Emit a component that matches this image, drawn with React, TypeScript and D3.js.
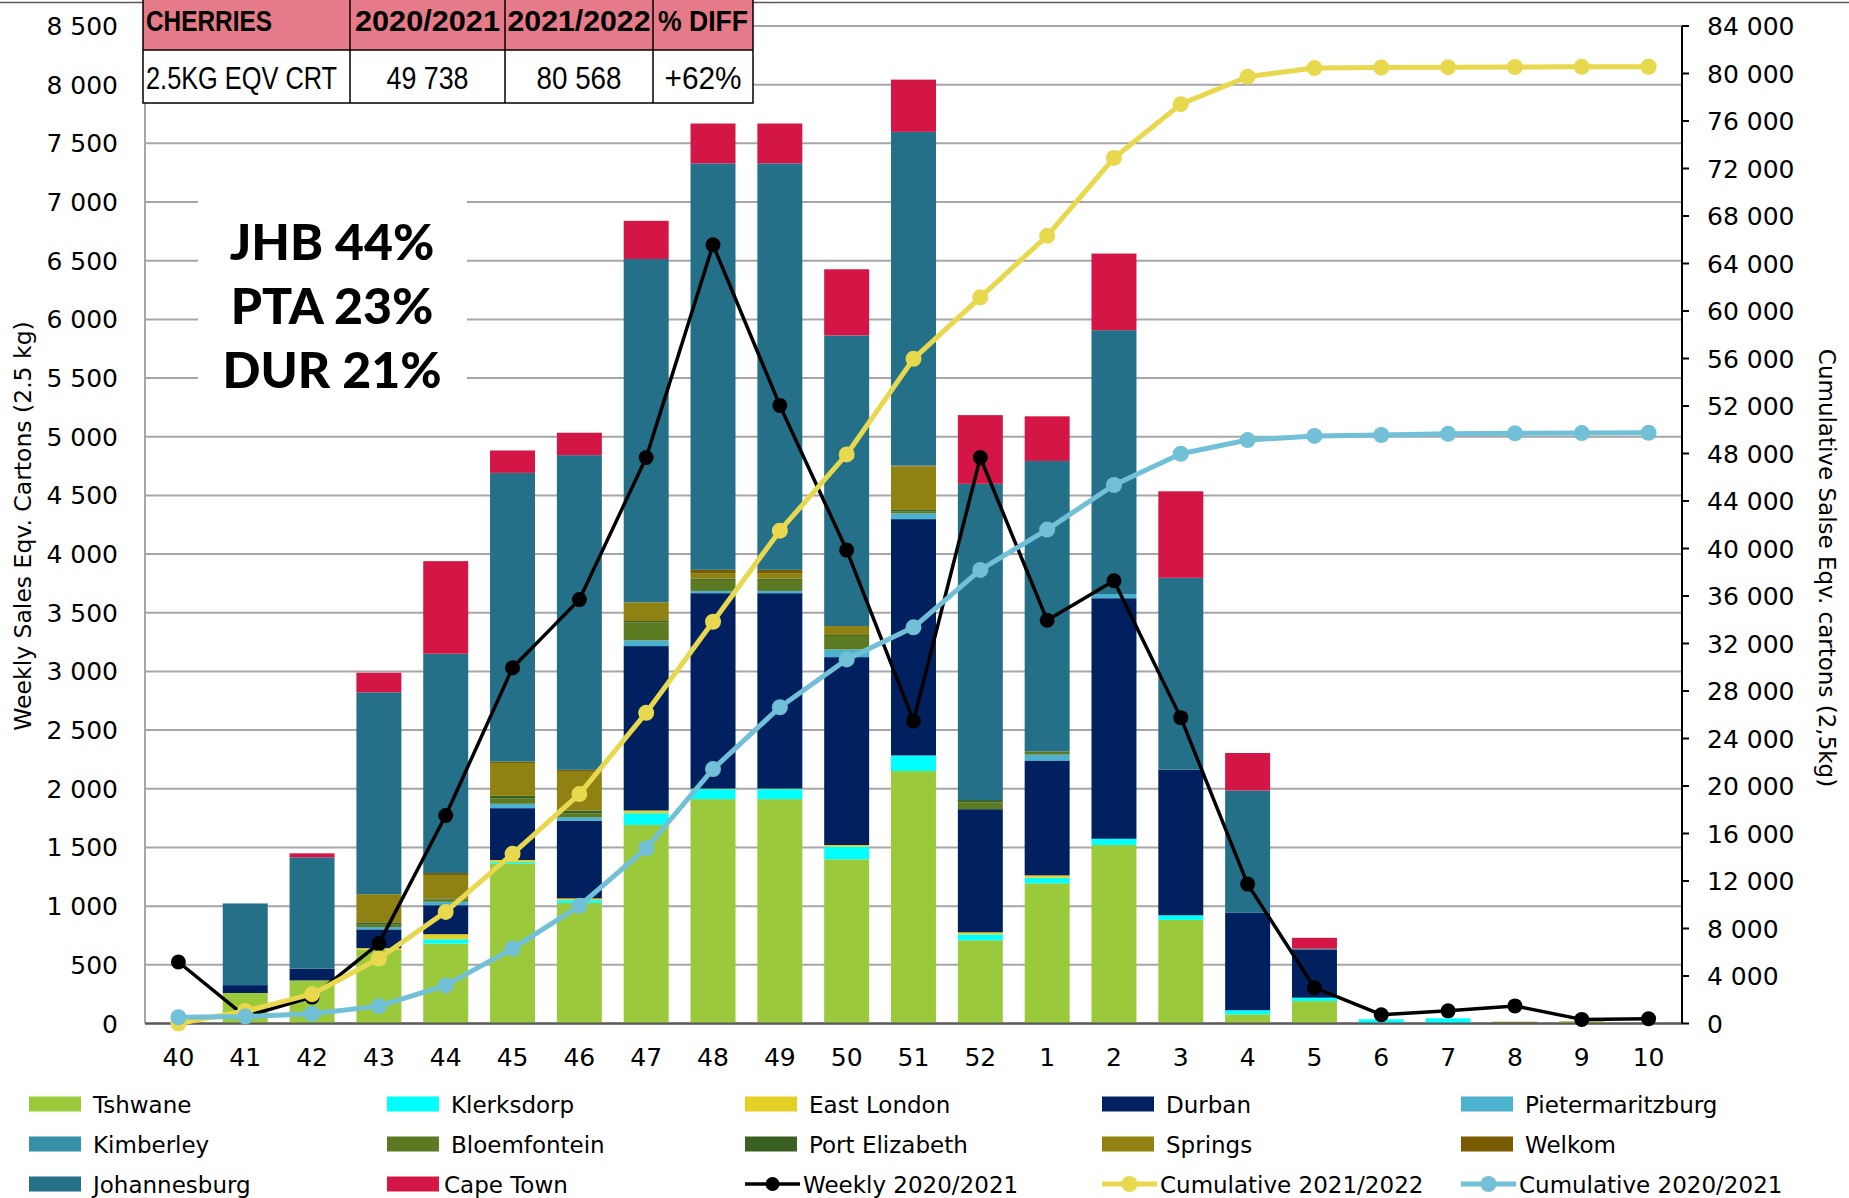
import React from "react";
import * as d3 from "d3";

const weeks = ["40","41","42","43","44","45","46","47","48","49","50","51","52","1","2","3","4","5","6","7","8","9","10"];

const seriesNames = ["Tshwane","Klerksdorp","East London","Durban","Pietermaritzburg","Kimberley","Bloemfontein","Port Elizabeth","Springs","Welkom","Johannesburg","Cape Town"];
const seriesColors = ["#9ACA3C","#00FFFF","#E6CF25","#00205F","#4BB1CF","#368EA8","#5C7A21","#3A6121","#8F8213","#7A5C00","#247088","#D41647"];

const tshwane =      [0,260,367,630,681,1365,1028,1692,1912,1912,1399,2152,709,1195,1521,883,78,191,0,0,0,20,0];
const klerksdorp =   [0,0,0,0,37,13,23,100,85,85,108,132,50,46,53,39,35,29,36,44,0,0,0];
const eastLondon =   [0,0,0,12,43,15,15,23,5,5,14,0,18,21,0,0,0,0,0,0,0,0,0];
const durban =       [0,67,100,160,247,442,663,1401,1665,1665,1601,2014,1049,979,2050,1241,830,408,0,0,0,0,0];
const pietermaritzburg = [0,0,0,20,29,37,29,49,19,19,66,49,0,50,36,0,0,0,0,0,0,0,0];
const kimberley =    [0,0,0,0,0,0,0,0,0,0,0,0,0,0,0,0,0,0,0,0,0,0,0];
const bloemfontein = [0,0,0,25,18,48,34,151,94,94,114,15,58,28,0,0,0,0,0,0,0,0,0];
const portElizabeth =[0,0,0,15,11,20,23,14,10,10,8,14,20,0,0,0,0,0,0,0,0,0,0];
const springs =      [0,0,0,235,199,280,330,157,48,48,77,371,0,0,0,0,0,0,0,0,15,0,0];
const welkom =       [0,0,0,5,17,12,17,3,28,28,0,7,0,0,0,0,0,0,0,0,0,0,0];
const johannesburg = [0,696,949,1720,1869,2460,2681,2925,3464,3464,2476,2844,2695,2475,2248,1635,1043,10,0,0,0,0,0];
const capeTown =     [0,0,34,167,789,191,191,325,339,339,564,445,585,380,653,737,319,92,0,0,0,0,0];

const weekly2021 =     [524,60,225,681,1772,3031,3612,4823,6635,5267,4034,2578,4823,3436,3773,2606,1188,305,75,108,150,35,40];
const cumulative2122 = [0,1050,2470,5470,9400,14290,19320,26160,33830,41500,47920,55970,61150,66330,72890,77420,79730,80460,80500,80530,80550,80560,80568];
const cumulative2021 = [524,590,820,1462,3210,6309,9909,14757,21427,26633,30660,33360,38195,41594,45345,47977,49131,49480,49560,49660,49700,49720,49738];

const leftTicks = d3.range(0, 8501, 500);
const rightTicks = d3.range(0, 84001, 4000);

const tableHeader = ["CHERRIES", "2020/2021", "2021/2022", "% DIFF"];
const tableRow = ["2.5KG EQV CRT", "49 738", "80 568", "+62%"];
const shareLabels = ["JHB 44%", "PTA 23%", "DUR 21%"];

const lineNames = ["Weekly 2020/2021", "Cumulative 2021/2022", "Cumulative 2020/2021"];
const lineColors = ["#000000", "#E8D84E", "#72C0D8"];

const W = 1849;
const H = 1198;
const FONT = "'DejaVu Sans', Verdana, sans-serif";

const fmt = (v: number) => d3.format(",")(v).replace(/,/g, " ");

export default function App() {
  const seriesValues = [tshwane, klerksdorp, eastLondon, durban, pietermaritzburg, kimberley, bloemfontein, portElizabeth, springs, welkom, johannesburg, capeTown];
  const rows = weeks.map((w, i) => {
    const r: any = { week: w };
    seriesNames.forEach((n, k) => (r[n] = seriesValues[k][i]));
    return r;
  });
  const stacked = d3.stack<any>().keys(seriesNames)(rows);

  const plotLeft = 145, plotRight = 1682, plotTop = 26, plotBottom = 1023.5;
  const x = d3.scaleBand<string>().domain(weeks).range([plotLeft, plotRight]).paddingInner(0.327).paddingOuter(0.1635);
  const yL = d3.scaleLinear().domain([0, 8500]).range([plotBottom, plotTop]);
  const yR = d3.scaleLinear().domain([0, 84000]).range([plotBottom, plotTop]);
  const cx = (w: string) => (x(w) as number) + x.bandwidth() / 2;

  const weeklyLine = d3.line<number>().x((_, i) => cx(weeks[i])).y((d) => yL(d));
  const cumLine = d3.line<number>().x((_, i) => cx(weeks[i])).y((d) => yR(d));

  const lineSeries = [
    { values: weekly2021, path: weeklyLine(weekly2021), color: lineColors[0], width: 3.5, r: 7.5, scale: yL },
    { values: cumulative2122, path: cumLine(cumulative2122), color: lineColors[1], width: 5, r: 8, scale: yR },
    { values: cumulative2021, path: cumLine(cumulative2021), color: lineColors[2], width: 5, r: 8, scale: yR },
  ];

  const tableCols = [143, 350, 505, 653, 753];
  const headerLens = [126, 145, 143, 90];
  const rowLens = [191, 82, 85, 77];

  const legendCols = [29, 387, 745, 1102, 1461];
  const legendRows = [1104, 1144, 1184];
  const legendItems: any[] = [];
  seriesNames.forEach((n, i) => legendItems.push({ name: n, color: seriesColors[i], kind: "bar" }));
  lineNames.forEach((n, i) => legendItems.push({ name: n, color: lineColors[i], kind: "line" }));

  return (
    <svg width={W} height={H} style={{ position: "absolute", left: 0, top: 0, background: "#fff" }} fontFamily={FONT}>
      <rect x={0} y={0} width={W} height={H} fill="#fff" />
      <line x1={0} x2={W} y1={2.5} y2={2.5} stroke="#595959" strokeWidth={1.5} />

      {/* gridlines */}
      {leftTicks.map((t) => (
        <line key={"g" + t} x1={plotLeft} x2={plotRight} y1={yL(t)} y2={yL(t)} stroke={t === 0 ? "#595959" : "#A6A6A6"} strokeWidth={2} />
      ))}
      {/* text box masking gridlines */}
      <rect x={198} y={174} width={269} height={240} fill="#fff" />
      <line x1={plotLeft} x2={plotLeft} y1={plotTop} y2={plotBottom} stroke="#A6A6A6" strokeWidth={2} />

      {/* stacked bars */}
      {stacked.map((layer, k) => (
        <g key={layer.key} fill={seriesColors[k]}>
          {layer.map((d, i) => {
            const h = yL(d[0]) - yL(d[1]);
            if (h <= 0) return null;
            return <rect key={i} x={x(weeks[i])} y={yL(d[1])} width={x.bandwidth()} height={h} />;
          })}
        </g>
      ))}

      {/* baseline again over bars */}
      <line x1={plotLeft} x2={plotRight} y1={plotBottom} y2={plotBottom} stroke="#595959" strokeWidth={2} />

      {/* lines */}
      {lineSeries.map((s, k) => (
        <g key={"l" + k}>
          <path d={s.path as string} fill="none" stroke={s.color} strokeWidth={s.width} strokeLinejoin="round" />
          {s.values.map((v, i) => (
            <circle key={i} cx={cx(weeks[i])} cy={s.scale(v)} r={s.r} fill={s.color} />
          ))}
        </g>
      ))}

      {/* left axis labels */}
      {leftTicks.map((t) => (
        <text key={"lt" + t} x={118} y={yL(t) + 9} textAnchor="end" fontSize={25} fill="#000">{fmt(t)}</text>
      ))}
      {/* right axis */}
      <line x1={plotRight} x2={plotRight} y1={plotTop} y2={plotBottom} stroke="#000" strokeWidth={2} />
      {rightTicks.map((t) => (
        <g key={"rt" + t}>
          <line x1={plotRight} x2={plotRight + 7} y1={yR(t)} y2={yR(t)} stroke="#000" strokeWidth={2} />
          <text x={1707} y={yR(t) + 9} fontSize={25} fill="#000">{fmt(t)}</text>
        </g>
      ))}
      {/* x labels */}
      {weeks.map((w) => (
        <text key={"x" + w} x={cx(w)} y={1066} textAnchor="middle" fontSize={25} fill="#000">{w}</text>
      ))}

      {/* axis titles */}
      <text transform={`translate(31,526) rotate(-90)`} textAnchor="middle" fontSize={23.5} fill="#000">Weekly Sales Eqv. Cartons (2.5 kg)</text>
      <text transform={`translate(1819,568) rotate(90)`} textAnchor="middle" fontSize={23} fill="#000">Cumulative Salse Eqv. cartons (2,5kg)</text>

      {/* share labels */}
      {shareLabels.map((s, i) => (
        <text key={s} x={332} y={260 + i * 64} textAnchor="middle" fontSize={50} fontWeight={900} fontFamily="Lato, 'DejaVu Sans', sans-serif" fill="#000">{s}</text>
      ))}

      {/* table */}
      <g fontFamily="'Liberation Sans Narrow', 'Liberation Sans', Arial, sans-serif">
        <rect x={tableCols[0]} y={-2} width={tableCols[4] - tableCols[0]} height={52} fill="#E57A88" />
        <rect x={tableCols[0]} y={50} width={tableCols[4] - tableCols[0]} height={53} fill="#fff" />
        <rect x={tableCols[0]} y={-2} width={tableCols[4] - tableCols[0]} height={105} fill="none" stroke="#000" strokeWidth={1.5} />
        <line x1={tableCols[0]} x2={tableCols[4]} y1={50} y2={50} stroke="#000" strokeWidth={1.5} />
        {tableCols.slice(1, 4).map((c) => (
          <line key={"tc" + c} x1={c} x2={c} y1={-2} y2={103} stroke="#000" strokeWidth={1.5} />
        ))}
        {tableHeader.map((t, i) => (
          <text key={"th" + i} x={i === 0 ? 146 : (tableCols[i] + tableCols[i + 1]) / 2} y={31} textAnchor={i === 0 ? "start" : "middle"}
            fontSize={29} fontWeight={700} textLength={headerLens[i]} lengthAdjust="spacingAndGlyphs" fill="#000">{t}</text>
        ))}
        {tableRow.map((t, i) => (
          <text key={"tr" + i} x={i === 0 ? 146 : (tableCols[i] + tableCols[i + 1]) / 2} y={89} textAnchor={i === 0 ? "start" : "middle"}
            fontSize={32} textLength={rowLens[i]} lengthAdjust="spacingAndGlyphs" fill="#000">{t}</text>
        ))}
      </g>

      {/* legend */}
      {legendItems.map((it, i) => {
        const col = i % 5;
        const row = Math.floor(i / 5);
        const lx = legendCols[col];
        const ly = legendRows[row];
        if (it.kind === "bar") {
          const tx = it.name === "Cape Town" ? lx + 57 : lx + 64;
          return (
            <g key={"lg" + i}>
              <rect x={lx} y={ly - 7.5} width={52} height={15} fill={it.color} />
              <text x={tx} y={ly + 8.5} fontSize={23} fill="#000">{it.name}</text>
            </g>
          );
        }
        return (
          <g key={"lg" + i}>
            <line x1={lx} x2={lx + 55} y1={ly} y2={ly} stroke={it.color} strokeWidth={it.color === "#000000" ? 3.5 : 5} />
            <circle cx={lx + 27.5} cy={ly} r={it.color === "#000000" ? 7 : 8} fill={it.color} />
            <text x={lx + 58} y={ly + 8.5} fontSize={23} fill="#000">{it.name}</text>
          </g>
        );
      })}
    </svg>
  );
}
